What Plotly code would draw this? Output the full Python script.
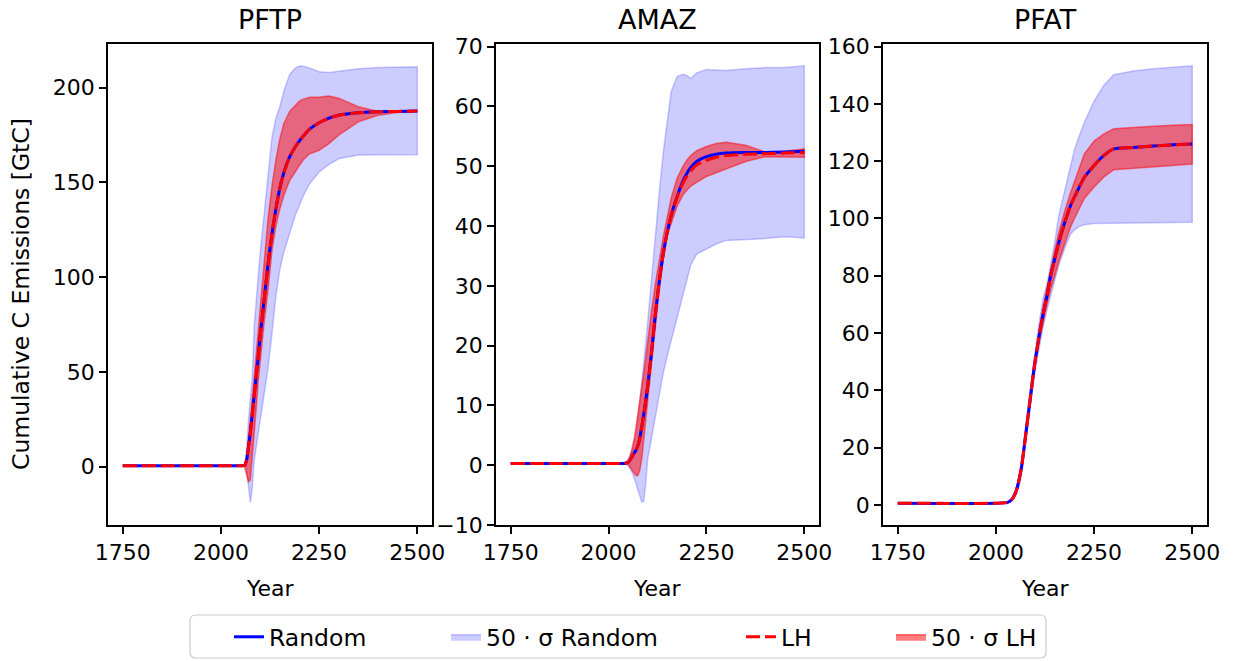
import plotly.graph_objects as go

W, H = 1233, 661
FONT = "DejaVu Sans"

# ---------------- data ----------------
years = [1750, 2000, 2030, 2040, 2050, 2055, 2060, 2065, 2070, 2075, 2080, 2085, 2090, 2095, 2100,
         2110, 2120, 2130, 2140, 2150, 2160, 2175, 2190, 2200, 2210, 2225, 2250, 2275, 2300,
         2350, 2400, 2450, 2500]

panel_titles = ["PFTP", "AMAZ", "PFAT"]
x_ticks = [1750, 2000, 2250, 2500]
y_ticks_pftp = [0, 50, 100, 150, 200]
y_ticks_amaz = [-10, 0, 10, 20, 30, 40, 50, 60, 70]
y_ticks_pfat = [0, 20, 40, 60, 80, 100, 120, 140, 160]

# PFTP
pftp_rand_mean = [0.5, 0.5, 0.5, 0.5, 0.5, 0.5, 0.6, 3, 10, 18, 28, 38, 48, 58, 69, 88, 107, 123, 136,
                  147, 155, 163.5, 169, 172, 174.5, 178, 181.5, 184, 185.5, 186.8, 187.3, 187.5, 187.7]
pftp_rand_hi = [0.5, 0.5, 0.5, 0.5, 0.5, 0.5, 1, 8, 24, 35, 48, 75, 88, 100, 113, 133, 155, 174, 184,
                190, 198, 207, 210.5, 211.5, 211.3, 210.5, 208.5, 208, 208.7, 210, 210.7, 211, 211.1]
pftp_rand_lo = [0.5, 0.5, 0.5, 0.5, 0.5, 0.5, 0.5, 0, -10, -19, -11, 3.5, 10, 17, 24, 38, 52, 70, 90,
                104, 113, 123, 133, 138, 143, 149, 155.5, 159.5, 162.5, 164.5, 164.5, 164.5, 164.6]
pftp_lh_mean = [0.5, 0.5, 0.5, 0.5, 0.5, 0.5, 0.6, 3, 10, 18, 28, 38, 48, 58, 69, 88, 107, 123, 136,
                147, 155, 163.5, 169, 172, 174.5, 178, 181.5, 184, 185.5, 186.8, 187.3, 187.5, 187.7]
pftp_lh_hi = [0.5, 0.5, 0.5, 0.5, 0.5, 0.5, 0.6, 4, 13, 25, 36, 48, 62, 74, 86, 110, 131, 148, 162,
              173, 181, 187.5, 191, 193, 194, 195, 195, 195.7, 194.5, 190, 187.5, 187.5, 187.7]
pftp_lh_lo = [0.5, 0.5, 0.5, 0.5, 0.5, 0.5, 0, -4, -8, -7, 4, 18, 31, 45, 55, 76, 93, 114, 127,
              136, 143, 151, 156, 159, 162, 165, 167, 170.5, 175, 182, 185.5, 187, 187.5]

# AMAZ
amaz_rand_mean = [0.3, 0.3, 0.3, 0.3, 0.5, 0.9, 1.4, 2, 2.5, 3.3, 4.6, 6.5, 8.6, 10.8, 13.3, 19, 25.5,
                  31, 35.5, 39, 41.8, 44.9, 47.5, 48.8, 49.8, 50.8, 51.6, 52, 52.2, 52.3, 52.3, 52.4, 52.5]
amaz_rand_hi = [0.3, 0.3, 0.3, 0.3, 1, 1.7, 2.5, 3.7, 5, 7.5, 10.5, 13.5, 17, 20.5, 24, 31.5, 39, 46,
                52.5, 58, 62.5, 65, 65.4, 65.2, 64.7, 65.6, 66.2, 66.1, 66, 66.3, 66.5, 66.5, 66.8]
amaz_rand_lo = [0.3, 0.3, 0.3, 0.3, 0, -0.6, -1.2, -2, -3, -4.2, -5.3, -6.2, -6.0, -3, 1, 4.5, 8, 12,
                15.5, 18.3, 21, 25, 28.5, 31, 33.5, 35.3, 36.2, 37, 37.6, 37.8, 37.9, 38.2, 38]
amaz_lh_mean = [0.3, 0.3, 0.3, 0.3, 0.5, 0.9, 1.4, 2, 2.5, 3.3, 4.6, 6.5, 8.6, 10.8, 13.3, 19, 25.5,
                31, 35.5, 39, 41.8, 44.8, 47.2, 48.3, 49.2, 50.2, 51, 51.5, 51.8, 52, 52.1, 52.2, 52.3]
amaz_lh_hi = [0.3, 0.3, 0.3, 0.3, 0.6, 1.5, 2.8, 4.3, 6.4, 8.5, 10.6, 13, 15.5, 18, 21, 26, 30.5, 34.5,
              38.3, 41.5, 44.7, 48, 50, 51, 51.8, 52.6, 53.3, 53.8, 54, 53.5, 52.4, 52.5, 52.9]
amaz_lh_lo = [0.3, 0.3, 0.3, 0.3, 0.1, -0.3, -0.8, -1.3, -1.7, -1.7, -0.8, 1.2, 3.7, 7, 10.5, 17, 23.5,
              29.5, 34.5, 38.5, 40.5, 43.3, 45.2, 46, 46.7, 47.3, 48.3, 48.9, 49.5, 50.8, 51.6, 51.6, 51.5]

# PFAT
pfat_rand_mean = [0.6, 0.6, 0.9, 1.8, 4.3, 6.5, 9.5, 13, 18, 23.5, 29, 34.5, 40, 45.5, 50.5, 59, 66.5,
                  73, 80.5, 86, 91.5, 98.5, 104.5, 107.5, 110.3, 114.3, 118.5, 122, 124.3, 124.8, 125.3, 125.7, 126]
pfat_rand_hi = [0.6, 0.6, 1.0, 2.2, 5, 7.5, 11, 15.5, 21, 27, 32.5, 38, 43.5, 49, 54, 63.5, 72, 77, 84.5,
                92, 101, 110, 119, 124, 128, 133.5, 141, 146.5, 150.2, 151.5, 152.3, 152.8, 153.3]
pfat_rand_lo = [0.6, 0.6, 0.8, 1.4, 3, 4.5, 7, 10.5, 15, 20, 25.5, 31, 36.5, 42, 47, 55, 62, 68, 73.5,
                78.5, 83.5, 89.5, 94.5, 96, 97, 97.8, 98.2, 98.3, 98.4, 98.5, 98.5, 98.6, 98.7]
pfat_lh_mean = [0.6, 0.6, 0.9, 1.8, 4.3, 6.5, 9.5, 13, 18, 23.5, 29, 34.5, 40, 45.5, 50.5, 59, 66.5,
                73, 80.5, 86, 91.5, 98.5, 104.5, 107.5, 110.3, 114.3, 118.5, 122, 124.3, 124.8, 125.3, 125.7, 126]
pfat_lh_hi = [0.6, 0.6, 1.0, 2.0, 4.8, 7, 10, 14, 19.3, 25, 30.5, 36, 41.5, 47, 52, 61, 69, 76, 83,
              89, 95, 102.5, 109, 113, 117, 122.5, 127, 129.5, 131.3, 131.8, 132.2, 132.5, 132.8]
pfat_lh_lo = [0.6, 0.6, 0.8, 1.6, 3.8, 5.5, 8.3, 12, 16.8, 22, 27.5, 33, 38.5, 43.8, 48.5, 57, 64, 70,
              75.5, 80, 85, 91, 97, 100, 103, 107, 111, 114.5, 117, 117.6, 118.1, 118.5, 119]

panels = [
    (pftp_rand_mean, pftp_rand_hi, pftp_rand_lo, pftp_lh_mean, pftp_lh_hi, pftp_lh_lo, y_ticks_pftp, [-30.8, 223.1]),
    (amaz_rand_mean, amaz_rand_hi, amaz_rand_lo, amaz_lh_mean, amaz_lh_hi, amaz_lh_lo, y_ticks_amaz, [-10.0, 70.45]),
    (pfat_rand_mean, pfat_rand_hi, pfat_rand_lo, pfat_lh_mean, pfat_lh_hi, pfat_lh_lo, y_ticks_pfat, [-7.0, 160.9]),
]

# ---------------- figure ----------------
fig = go.Figure()
x_domains_px = [(108, 432), (496, 819), (883, 1207)]
y_dom = [1 - 525 / H, 1 - 44 / H]

BLUE_BAND = "rgba(0,0,255,0.2)"
RED_BAND = "rgba(255,0,0,0.5)"

for i, (rm, rhi, rlo, lm, lhi, llo, yt, yr) in enumerate(panels):
    sfx = "" if i == 0 else str(i + 1)
    xa, ya = "x" + sfx, "y" + sfx
    show = i == 0
    fig.add_trace(go.Scatter(
        x=years + years[::-1], y=rhi + rlo[::-1], fill="toself", fillcolor=BLUE_BAND,
        line=dict(color=BLUE_BAND, width=1.5), mode="lines", name="50 · σ Random",
        legend="legend2", showlegend=show, xaxis=xa, yaxis=ya, hoverinfo="skip"))
    fig.add_trace(go.Scatter(
        x=years + years[::-1], y=lhi + llo[::-1], fill="toself", fillcolor=RED_BAND,
        line=dict(color=RED_BAND, width=1.5), mode="lines", name="50 · σ LH",
        legend="legend4", showlegend=show, xaxis=xa, yaxis=ya, hoverinfo="skip"))
    fig.add_trace(go.Scatter(
        x=years, y=rm, mode="lines", line=dict(color="#0000ff", width=3, shape="spline", smoothing=0.6),
        name="Random", legend="legend", showlegend=show, xaxis=xa, yaxis=ya))
    fig.add_trace(go.Scatter(
        x=years, y=lm, mode="lines",
        line=dict(color="#ff0000", width=3, dash="14px,5px", shape="spline", smoothing=0.6),
        name="LH", legend="legend3", showlegend=show, xaxis=xa, yaxis=ya))

    x0, x1 = x_domains_px[i]
    axis_common = dict(ticks="outside", ticklen=7, tickwidth=1.6, tickcolor="black",
                       showline=True, linecolor="black", linewidth=1.6, mirror=True,
                       showgrid=False, zeroline=False,
                       tickfont=dict(family=FONT, size=22, color="black"))
    fig.layout["xaxis" + sfx] = dict(domain=[x0 / W, x1 / W], range=[1712.5, 2537.5],
                                     tickvals=x_ticks, anchor=ya, **axis_common)
    fig.layout["yaxis" + sfx] = dict(domain=y_dom, range=yr, tickvals=yt, anchor=xa, **axis_common)

    cx = (x0 + x1) / 2
    fig.add_annotation(text=panel_titles[i], x=cx / W, y=1 - 20 / H, xref="paper", yref="paper",
                       showarrow=False, xanchor="center", yanchor="middle",
                       font=dict(family=FONT, size=27, color="black"))
    fig.add_annotation(text="Year", x=cx / W, y=1 - 588 / H, xref="paper", yref="paper",
                       showarrow=False, xanchor="center", yanchor="middle",
                       font=dict(family=FONT, size=22, color="black"))

fig.add_annotation(text="Cumulative C Emissions [GtC]", x=21 / W, y=1 - 294 / H,
                   xref="paper", yref="paper", showarrow=False, textangle=-90,
                   xanchor="center", yanchor="middle",
                   font=dict(family=FONT, size=23.5, color="black"))

# legend frame (rounded)
def rounded_rect(x0, y0, x1, y1, r):
    def p(x, y):
        return f"{x / W:.5f},{1 - y / H:.5f}"
    return (f"M{p(x0 + r, y0)} L{p(x1 - r, y0)} Q{p(x1, y0)} {p(x1, y0 + r)} "
            f"L{p(x1, y1 - r)} Q{p(x1, y1)} {p(x1 - r, y1)} L{p(x0 + r, y1)} "
            f"Q{p(x0, y1)} {p(x0, y1 - r)} L{p(x0, y0 + r)} Q{p(x0, y0)} {p(x0 + r, y0)} Z")

fig.add_shape(type="path", path=rounded_rect(190, 615, 1046, 658, 6), xref="paper", yref="paper",
              line=dict(color="#cccccc", width=1.2), fillcolor="rgba(255,255,255,0.8)", layer="below")

leg_font = dict(family=FONT, size=23.5, color="black")
leg_y = 1 - 637 / H
leg_common = dict(orientation="h", yanchor="middle", y=leg_y, xanchor="left",
                  bgcolor="rgba(0,0,0,0)", borderwidth=0, font=leg_font)
fig.update_layout(
    legend=dict(x=229 / W, **leg_common),
    legend2=dict(x=446 / W, **leg_common),
    legend3=dict(x=741 / W, **leg_common),
    legend4=dict(x=891 / W, **leg_common),
)

fig.update_layout(
    width=W, height=H,
    margin=dict(l=0, r=0, t=0, b=0, autoexpand=False),
    plot_bgcolor="white", paper_bgcolor="white",
    font=dict(family=FONT, color="black"),
)

fig.write_html("out.html")
